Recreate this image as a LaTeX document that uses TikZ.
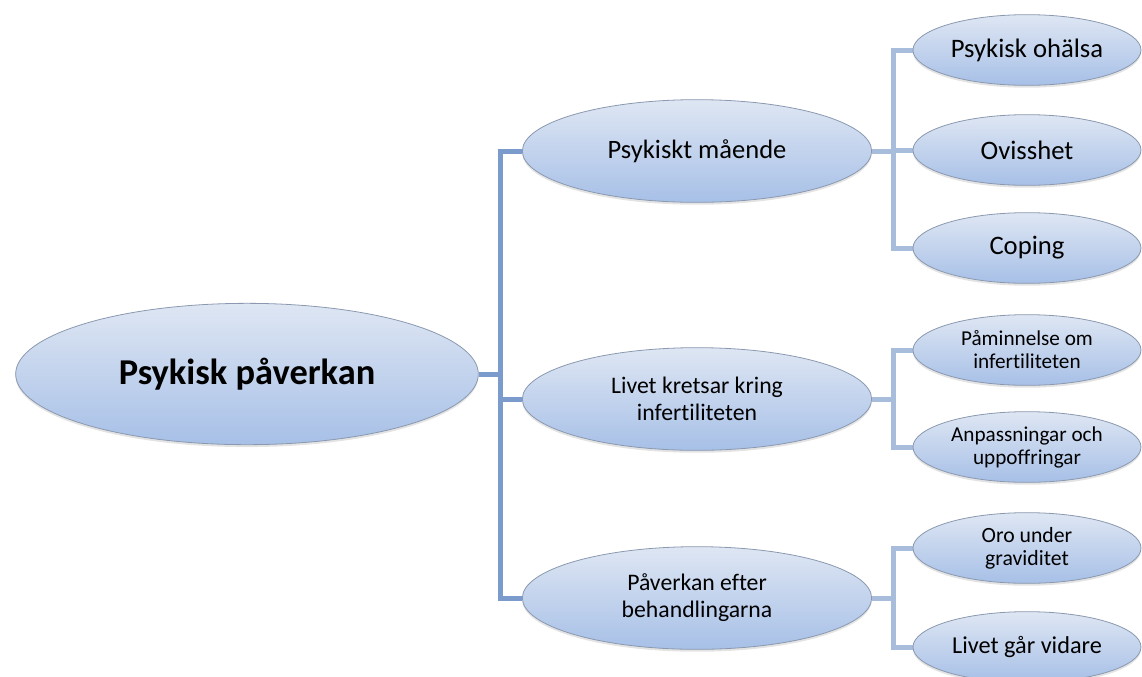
\documentclass[tikz,border=0pt]{standalone}
\usepackage{fontspec}
\setmainfont{Carlito}[Ligatures=NoCommon]
\usetikzlibrary{shapes.geometric,shadows,backgrounds}

\definecolor{ovaltop}{HTML}{DEE6F3}
\definecolor{ovalbot}{HTML}{A7C0E7}
\definecolor{ovalrim}{HTML}{8A99AF}
\definecolor{trunkblue}{HTML}{7C9BCD}
\definecolor{twigblue}{HTML}{A8BCDC}

\tikzset{
  oval/.style={ellipse, inner sep=0pt, align=center, draw=ovalrim, line width=0.6pt,
    top color=ovaltop, bottom color=ovalbot,
    drop shadow={opacity=0.22, shadow xshift=0pt, shadow yshift=-1.8pt}},
  rootoval/.style={oval, minimum width=347pt, minimum height=106pt,
    font=\fontsize{27.3}{32}\selectfont\bfseries},
  midoval/.style={oval, minimum width=262pt, minimum height=77pt},
  leafoval/.style={oval, minimum width=171pt, minimum height=53pt},
  trunk/.style={draw=trunkblue, line width=3.75pt, line join=miter},
  twig/.style={draw=twigblue, line width=3.75pt, line join=miter},
}

\begin{document}
\begin{tikzpicture}[x=0.75pt, y=-0.75pt]
\useasboundingbox (0,0) rectangle (1142,676);

% root
\node[rootoval] (root) at (247,374) {Psykisk påverkan};

% second level
\node[midoval, font=\fontsize{19.9}{23}\selectfont] (m1) at (697,151) {Psykiskt mående};
\node[midoval, font=\fontsize{17.8}{20.2}\selectfont] (m2) at (697,399) {Livet kretsar kring\\infertiliteten};
\node[midoval, font=\fontsize{17.8}{20.2}\selectfont] (m3) at (697,598) {Påverkan efter\\behandlingarna};

% leaves
\node[leafoval, font=\fontsize{20}{23}\selectfont] (l11) at (1027,50) {Psykisk ohälsa};
\node[leafoval, font=\fontsize{20}{23}\selectfont] (l12) at (1027,150) {Ovisshet};
\node[leafoval, font=\fontsize{20}{23}\selectfont] (l13) at (1027,248) {Coping};
\node[leafoval, font=\fontsize{15.9}{17.3}\selectfont] (l21) at (1027,350) {Påminnelse om\\infertiliteten};
\node[leafoval, font=\fontsize{15.9}{17.3}\selectfont] (l22) at (1027,447) {Anpassningar och\\uppoffringar};
\node[leafoval, font=\fontsize{16.3}{17.3}\selectfont] (l31) at (1027,548) {Oro under\\graviditet};
\node[leafoval, font=\fontsize{18.2}{21}\selectfont] (l32) at (1027,647) {Livet går vidare};

% connectors, kept behind the ovals
\begin{scope}[on background layer]
  \draw[trunk] (root.east) -- ++(22,0) coordinate (j0);
  \draw[trunk] (m1.west) -| (j0);
  \draw[trunk] (m2.west) -| (j0);
  \draw[trunk] (m3.west) -| (j0);

  \draw[twig] (m1.east) -- ++(21,0) coordinate (j1);
  \draw[twig] (l11.west) -| (j1);
  \draw[twig] (l12.west) -| (j1);
  \draw[twig] (l13.west) -| (j1);

  \draw[twig] (m2.east) -- ++(21,0) coordinate (j2);
  \draw[twig] (l21.west) -| (j2);
  \draw[twig] (l22.west) -| (j2);

  \draw[twig] (m3.east) -- ++(21,0) coordinate (j3);
  \draw[twig] (l31.west) -| (j3);
  \draw[twig] (l32.west) -| (j3);
\end{scope}
\end{tikzpicture}
\end{document}
